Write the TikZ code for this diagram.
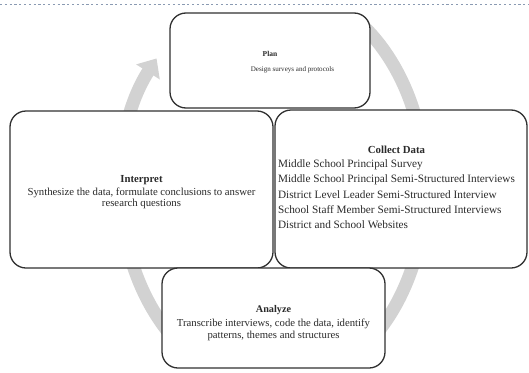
\documentclass[tikz,border=0pt]{standalone}
\usepackage{fontspec}
\setmainfont{Liberation Serif}
\usetikzlibrary{arrows.meta}
\definecolor{edgegray}{HTML}{303030}
\definecolor{ringgray}{HTML}{D2D2D2}
\definecolor{rulecol}{HTML}{8A9AB2}
\definecolor{inkgray}{HTML}{2A2A2A}
\begin{document}
\begin{tikzpicture}[x=1pt,y=-1pt,
  stage/.style={draw=edgegray, line width=1.3pt, rounded corners=16pt,
    fill=white, inner sep=0pt},
  words/.style={inner sep=0pt, anchor=base, text=inkgray},
  ring/.style={draw=ringgray, line width=13pt,
    -{Triangle[width=27pt,length=16pt]}},
  toprule/.style={draw=rulecol, line width=1.6pt, dash pattern=on 2.2pt off 2.6pt}
]
\useasboundingbox (0,0) rectangle (529,372);
\fill[white] (0,0) rectangle (529,372);

% dotted rule along the top edge
\coordinate (ruleL) at (0,4.5);
\coordinate (ruleR) at (529,4.5);
\draw[toprule] (ruleL) -- (ruleR);

% grey cycle arrow running clockwise behind the four stages
\coordinate (hub) at (273,187);
\begin{scope}
  \clip (0,13) rectangle (529,366);
  \draw[ring] (hub) ++(-128:152 and 200)
    arc[start angle=-128, end angle=220, x radius=152, y radius=200];
\end{scope}

% the four stage boxes
\node[stage, minimum width=263pt, minimum height=157pt] (interpret) at (141.5,189.5) {};
\node[stage, minimum width=252pt, minimum height=158pt] (collect) at (401,189) {};
\node[stage, minimum width=200pt, minimum height=95pt] (plan) at (270,60.5) {};
\node[stage, minimum width=223pt, minimum height=100pt] (analyze) at (273.5,318) {};

% stage texts
\node[words, font=\fontsize{7.5}{8}\selectfont\bfseries] (planHead) at (270,56) {Plan};
\node[words, font=\fontsize{7.05}{8}\selectfont] (planBody) at (292.5,71) {Design surveys and protocols};

\node[words, font=\fontsize{10.75}{11}\selectfont] (interpretText) at (141.5,182.5)
  {\begin{tabular}[t]{@{}c@{}}
   {\bfseries Interpret}\\[2pt]
   Synthesize the data, formulate conclusions to answer\\
   research questions
   \end{tabular}};

\node[words, font=\fontsize{11.25}{15.3}\selectfont] (collectText) at (396.5,153.5)
  {\begin{tabular}[t]{@{}l@{}}
   \multicolumn{1}{@{}c@{}}{\fontsize{10.8}{15.3}\selectfont\bfseries Collect Data}\\[-1.3pt]
   Middle School Principal Survey\\
   Middle School Principal Semi-Structured Interviews\\
   District Level Leader Semi-Structured Interview\\
   School Staff Member Semi-Structured Interviews\\
   District and School Websites
   \end{tabular}};

\node[words, font=\fontsize{10.7}{12}\selectfont] (analyzeText) at (273.5,312.5)
  {\begin{tabular}[t]{@{}c@{}}
   {\fontsize{10.2}{12}\selectfont\bfseries Analyze}\\[2pt]
   Transcribe interviews, code the data, identify\\
   patterns, themes and structures
   \end{tabular}};
\end{tikzpicture}
\end{document}
